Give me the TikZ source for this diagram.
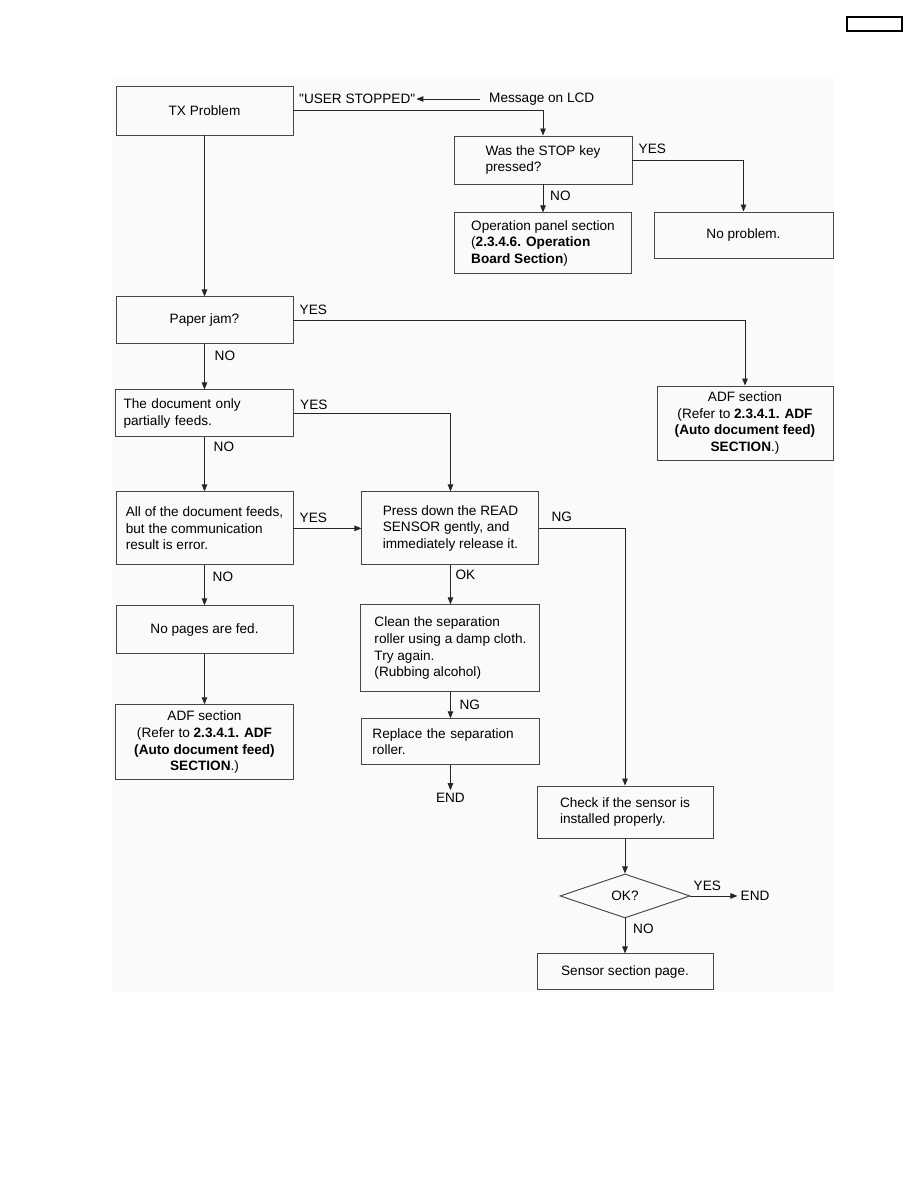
\documentclass[tikz,border=0pt]{standalone}
\usepackage{fontspec}
\newfontfamily\lsans{Liberation Sans}
\usetikzlibrary{arrows.meta,positioning,shapes.geometric}
\newcommand{\adftext}{ADF section\\(Refer to \textbf{2.3.4.1. ADF}\\\textbf{(Auto document feed)}\\\textbf{SECTION}.)}

\begin{document}
\begin{tikzpicture}[
  x=1pt, y=-1pt,
  font=\lsans\fontsize{13.6}{16.7}\selectfont,
  box/.style={draw=black!72, line width=0.95pt, inner sep=4pt, align=center},
  lbox/.style={box, align=left},
  lbl/.style={inner sep=0pt},
  arr/.style={-{Triangle[length=7pt,width=5.5pt]}, line width=0.85pt, draw=black!85}
]
\useasboundingbox (0,0) rectangle (918,1188);
\fill[black!2] (112,79) rectangle (834,992);
\node[draw, line width=1.2pt, minimum width=55pt, minimum height=14pt, inner sep=0pt] (pagebox) at (874.5,24) {};

% left column
\node[box, minimum width=177pt, minimum height=49pt] (tx) at (204.5,110.5) {TX Problem};
\node[box, below=161pt of tx, minimum width=177pt, minimum height=47pt] (paper) {Paper jam?};
\node[lbox, below=45pt of paper, minimum height=47pt, text width=162pt, inner xsep=8pt] (partial) {The document only\\partially feeds.};
\node[lbox, below=54pt of partial, minimum width=177pt, minimum height=73pt] (allfeed) {All of the document feeds,\\but the communication\\result is error.};
\node[box, below=40pt of allfeed, minimum width=177pt, minimum height=48pt] (nopages) {No pages are fed.};
\node[box, below=50pt of nopages, minimum width=178pt, minimum height=75pt] (adf2) {\adftext};

% middle column
\node[lbox, right=68pt of allfeed, minimum width=177pt, minimum height=73pt] (press) {Press down the READ\\SENSOR gently, and\\immediately release it.};
\node[lbox, below=39pt of press, minimum width=179pt, minimum height=87pt] (clean) {Clean the separation\\roller using a damp cloth.\\Try again.\\(Rubbing alcohol)};
\node[lbox, below=26pt of clean, minimum height=46pt, text width=156pt, inner xsep=11pt] (replace) {Replace the separation\\roller.};
\node[inner sep=3pt, below=25pt of replace] (end1) {END};

% top right
\node[lbl, anchor=west] (user) at (299,99) {"USER STOPPED"};
\node[lbl, anchor=west] (msg) at (489,99) {Message on LCD};
\node[lbox, minimum width=178pt, minimum height=48pt] (stop) at (543,160) {Was the STOP key\\pressed?};
\node[lbox, below=28pt of stop, minimum width=177pt, minimum height=61pt] (oppanel) {Operation panel section\\(\textbf{2.3.4.6. Operation}\\\textbf{Board Section})};
\node[box, minimum width=179pt, minimum height=46pt] (noprob) at (743.5,235) {No problem.};
\node[box, minimum width=176pt, minimum height=74pt] (adf1) at (745,423) {\adftext};

% sensor branch
\node[lbox, minimum width=176pt, minimum height=52pt] (check) at (625,812) {Check if the sensor is\\installed properly.};
\node[box, diamond, below=35pt of check, minimum width=130pt, minimum height=44pt, inner sep=0pt] (ok) {OK?};
\node[inner sep=3pt, right=47pt of ok] (end2) {END};
\node[box, below=35pt of ok, minimum width=176pt, minimum height=36pt] (sensor) {Sensor section page.};

% connectors
\draw[arr] ([xshift=-9pt]msg.west) -- ([xshift=1pt]user.east);
\draw[arr] (tx.east) -| (stop.north);
\draw[arr] (stop.east) -| (noprob.north);
\draw[arr] (stop.south) -- (stop.south |- oppanel.north);
\draw[arr] (tx) -- (paper);
\draw[arr] (paper.east) -| (adf1.north);
\draw[arr] (paper) -- (partial);
\draw[arr] (partial.east) -| (press.north);
\draw[arr] (partial) -- (allfeed);
\draw[arr] (allfeed) -- (press);
\draw[arr] (allfeed) -- (nopages);
\draw[arr] (nopages) -- (adf2);
\draw[arr] (press.east) -| (check.north);
\draw[arr] (press) -- (clean);
\draw[arr] (clean) -- (replace);
\draw[arr] (replace) -- (end1);
\draw[arr] (check) -- (ok);
\draw[arr] (ok) -- (end2);
\draw[arr] (ok) -- (sensor);

% branch labels
\node[lbl, above right=6pt and 6pt of stop.east] (yes1) {YES};
\node[lbl, below right=6pt and 7pt of stop.south] (no1) {NO};
\node[lbl, above right=6pt and 6pt of paper.east] (yes2) {YES};
\node[lbl, below right=6pt and 10pt of paper.south] (no2) {NO};
\node[lbl, above right=4pt and 6pt of partial.east] (yes3) {YES};
\node[lbl, below right=4pt and 9pt of partial.south] (no3) {NO};
\node[lbl, above right=6pt and 6pt of allfeed.east] (yes4) {YES};
\node[lbl, below right=6pt and 8pt of allfeed.south] (no4) {NO};
\node[lbl, above right=7pt and 12pt of press.east] (ng1) {NG};
\node[lbl, below right=4pt and 5pt of press.south] (okl) {OK};
\node[lbl, below right=8pt and 9pt of clean.south] (ng2) {NG};
\node[lbl, above right=5pt and 3pt of ok.east] (yes5) {YES};
\node[lbl, below right=5pt and 8pt of ok.south] (no5) {NO};
\end{tikzpicture}
\end{document}
